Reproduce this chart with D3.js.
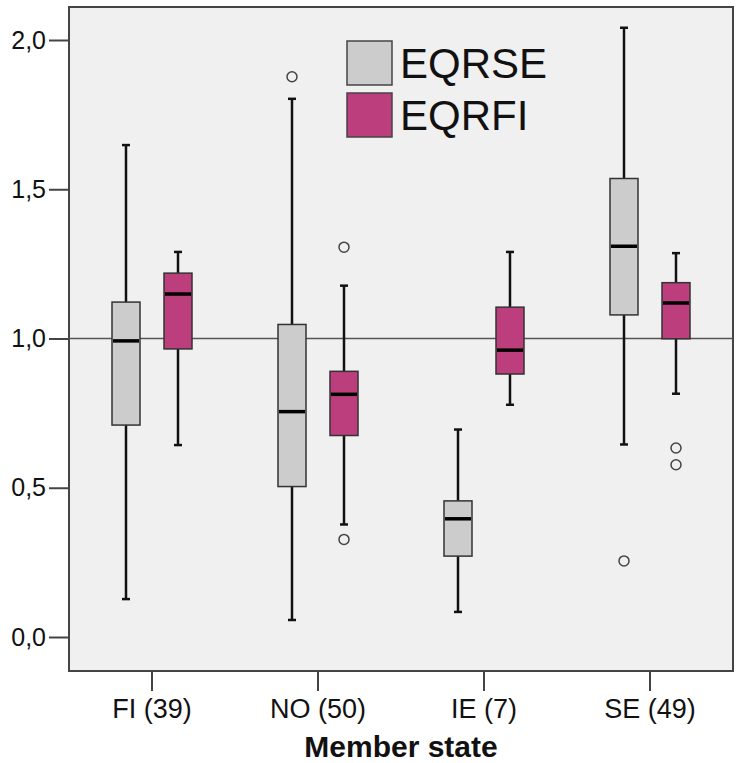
<!DOCTYPE html>
<html>
<head>
<meta charset="utf-8">
<script src="https://cdn.jsdelivr.net/npm/d3@7"></script>
<style>
  html, body { margin: 0; padding: 0; background: #fff; }
  svg { display: block; font-family: "Liberation Sans", Arial, sans-serif; }
  .axis path, .axis line { stroke: #444; }
</style>
</head>
<body>
<div id="chart"></div>
<script>
// Box plots of EQR per member state, two series side by side.
const states = ['FI (39)', 'NO (50)', 'IE (7)', 'SE (49)'];
const series = ['EQRSE', 'EQRFI'];
const yTicks = [0, 0.5, 1.0, 1.5, 2.0];
const refValue = 1.0;

// [min whisker, Q1, median, Q3, max whisker] per state
const eqrseStats = [
  [0.127, 0.710, 0.992, 1.122, 1.648],
  [0.057, 0.504, 0.755, 1.047, 1.803],
  [0.084, 0.271, 0.396, 0.456, 0.695],
  [0.645, 1.079, 1.309, 1.536, 2.041]
];
const eqrfiStats = [
  [0.643, 0.965, 1.149, 1.219, 1.290],
  [0.377, 0.675, 0.813, 0.890, 1.177],
  [0.778, 0.881, 0.961, 1.105, 1.290],
  [0.815, 0.999, 1.119, 1.187, 1.286]
];
const eqrseOutliers = [[], [1.877], [], [0.255]];
const eqrfiOutliers = [[], [1.306, 0.327], [], [0.633, 0.577]];

const colors = {EQRSE: '#cccccc', EQRFI: '#bc3e7c'};

const width = 741, height = 763;
const plotBox = {left: 69, right: 733, top: 7, bottom: 671};

const svg = d3.select('#chart').append('svg')
  .attr('width', width)
  .attr('height', height);

const x = d3.scaleBand(states, [plotBox.left, plotBox.right]).padding(0);
const xs = d3.scaleBand(series, [-52, 52]);
const y = d3.scaleLinear([0, 2], [637, 40]);
const boxW = 28;

// Plot background and frame
svg.append('rect')
  .attr('x', plotBox.left).attr('y', plotBox.top)
  .attr('width', plotBox.right - plotBox.left)
  .attr('height', plotBox.bottom - plotBox.top)
  .attr('fill', '#f0f0f0')
  .attr('stroke', '#444')
  .attr('stroke-width', 2);

// Reference line at 1,0
svg.append('line')
  .attr('x1', plotBox.left).attr('x2', plotBox.right)
  .attr('y1', y(refValue)).attr('y2', y(refValue))
  .attr('stroke', '#555').attr('stroke-width', 1.5);

// Tidy records for each box
const boxes = [];
states.forEach((state, i) => {
  [[series[0], eqrseStats[i], eqrseOutliers[i]], [series[1], eqrfiStats[i], eqrfiOutliers[i]]]
    .forEach(([name, s, out]) => {
      boxes.push({state, name, min: s[0], q1: s[1], med: s[2], q3: s[3], max: s[4], out,
        cx: x(state) + x.bandwidth() / 2 + xs(name) + xs.bandwidth() / 2});
    });
});

const g = svg.append('g').attr('class', 'boxes');
const box = g.selectAll('g.box').data(boxes).join('g').attr('class', 'box');

// Whiskers
box.append('line')
  .attr('x1', d => d.cx).attr('x2', d => d.cx)
  .attr('y1', d => y(d.max)).attr('y2', d => y(d.q3))
  .attr('stroke', '#111').attr('stroke-width', 2.5);
box.append('line')
  .attr('x1', d => d.cx).attr('x2', d => d.cx)
  .attr('y1', d => y(d.q1)).attr('y2', d => y(d.min))
  .attr('stroke', '#111').attr('stroke-width', 2.5);
// Whisker caps
['max', 'min'].forEach(k => {
  box.append('line')
    .attr('x1', d => d.cx - 4).attr('x2', d => d.cx + 4)
    .attr('y1', d => y(d[k])).attr('y2', d => y(d[k]))
    .attr('stroke', '#111').attr('stroke-width', 2.5);
});

// Box body
box.append('rect')
  .attr('x', d => d.cx - boxW / 2)
  .attr('width', boxW)
  .attr('y', d => y(d.q3))
  .attr('height', d => y(d.q1) - y(d.q3))
  .attr('fill', d => colors[d.name])
  .attr('stroke', '#333')
  .attr('stroke-width', 1.5);

// Median
box.append('line')
  .attr('x1', d => d.cx - boxW / 2 + 1).attr('x2', d => d.cx + boxW / 2 - 1)
  .attr('y1', d => y(d.med)).attr('y2', d => y(d.med))
  .attr('stroke', '#000').attr('stroke-width', 3.5);

// Outliers
box.selectAll('circle')
  .data(d => d.out.map(v => ({v, cx: d.cx})))
  .join('circle')
  .attr('cx', d => d.cx).attr('cy', d => y(d.v))
  .attr('r', 5)
  .attr('fill', 'none')
  .attr('stroke', '#444')
  .attr('stroke-width', 1.5);

// Y axis
const yAxis = svg.append('g')
  .attr('class', 'axis')
  .attr('transform', `translate(${plotBox.left},0)`)
  .call(d3.axisLeft(y).tickValues(yTicks).tickSize(20).tickPadding(3)
    .tickFormat(d => d3.format('.1f')(d).replace('.', ',')));
yAxis.select('.domain').remove();
yAxis.selectAll('line').attr('stroke-width', 2);
yAxis.selectAll('text').attr('font-size', 25).attr('fill', '#111')
  .attr('font-family', '"Liberation Sans", Arial, sans-serif');

// X axis
const xAxis = svg.append('g')
  .attr('class', 'axis')
  .attr('transform', `translate(0,${plotBox.bottom})`)
  .call(d3.axisBottom(x).tickSize(20).tickPadding(8));
xAxis.select('.domain').remove();
xAxis.selectAll('line').attr('stroke-width', 2);
xAxis.selectAll('text').attr('font-size', 27).attr('fill', '#111')
  .attr('font-family', '"Liberation Sans", Arial, sans-serif');

svg.append('text')
  .attr('x', (plotBox.left + plotBox.right) / 2)
  .attr('y', 757)
  .attr('text-anchor', 'middle')
  .attr('font-size', 30)
  .attr('font-weight', 'bold')
  .attr('fill', '#111')
  .text('Member state');

// Legend
const legend = svg.append('g').attr('transform', 'translate(347,41)');
const item = legend.selectAll('g').data(series).join('g')
  .attr('transform', (d, i) => `translate(0,${i * 52})`);
item.append('rect')
  .attr('width', 45).attr('height', 44)
  .attr('fill', d => colors[d])
  .attr('stroke', '#444').attr('stroke-width', 1.5);
item.append('text')
  .attr('x', 53).attr('y', 37)
  .attr('font-size', 42)
  .attr('fill', '#111')
  .text(d => d);
</script>
</body>
</html>
